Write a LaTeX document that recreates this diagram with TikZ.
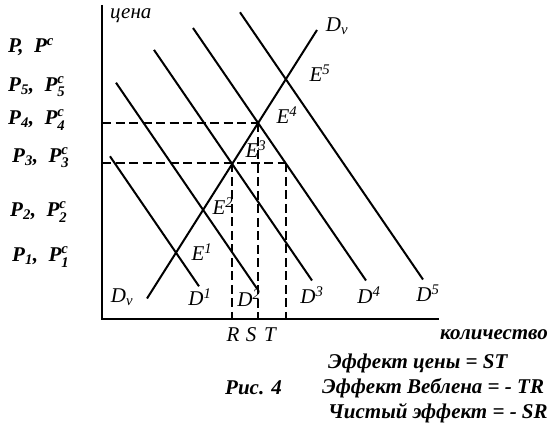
\documentclass[tikz,border=0pt]{standalone}
\usepackage{amsmath}
\usepackage{fontspec}
\setmainfont{Liberation Serif}
\newcommand{\plev}[1]{\textbf{\textit{P}}$_{\textbf{#1}}$,\enspace\textbf{\textit{P}}$^{\textbf{\textit{c}}}_{\textbf{#1}}$}
\newcommand{\eqp}[1]{\textit{E}$^{\text{#1}}$}
\newcommand{\dem}[1]{\textit{D}$^{\text{#1}}$}
\tikzset{
  demline/.style={line width=2pt},
  axisline/.style={line width=1.7pt},
  guide/.style={line width=1.8pt, dash pattern=on 9pt off 4.5pt},
  lbl/.style={font=\itshape\fontsize{21}{24}\selectfont, inner sep=0pt},
  plbl/.style={font=\bfseries\itshape\fontsize{21}{24}\selectfont, inner sep=0pt, anchor=west},
}
\begin{document}
\begin{tikzpicture}[x=1pt,y=-1pt]
\useasboundingbox (0,0) rectangle (559,427);
% axes
\coordinate (o) at (102,319);
\coordinate (ytop) at (102,5);
\coordinate (xend) at (439,319);
\draw[axisline] (ytop) -- (o) -- (xend);
% equilibrium points
\coordinate (e1) at (176,252.7);
\coordinate (e2) at (203.3,210.2);
\coordinate (e3) at (231.7,163.3);
\coordinate (e4) at (258.3,123.3);
\coordinate (e5) at (286,79.5);
\coordinate (t) at (285.7,163.3);
% Veblen line
\coordinate (dva) at (147,298.5);
\coordinate (dvb) at (317,30);
\draw[demline] (dva) -- (dvb);
% demand lines
\coordinate (d1a) at (110,156.3);
\coordinate (d1b) at (199,286.3);
\coordinate (d2a) at (116,82.7);
\coordinate (d2b) at (257,288.6);
\coordinate (d3a) at (154,49.9);
\coordinate (d3b) at (312,280.5);
\coordinate (d4a) at (193,28);
\coordinate (d4b) at (366,280.5);
\coordinate (d5a) at (240,12.3);
\coordinate (d5b) at (423,279.5);
\draw[demline] (d1a) -- (d1b);
\draw[demline] (d2a) -- (d2b);
\draw[demline] (d3a) -- (d3b);
\draw[demline] (d4a) -- (d4b);
\draw[demline] (d5a) -- (d5b);
% dashed guides
\coordinate (p4) at (102,123.3);
\coordinate (p3) at (102,163.3);
\coordinate (r) at (231.7,319);
\coordinate (s) at (258.3,319);
\coordinate (tq) at (285.7,319);
\draw[guide] (p4) -- (e4);
\draw[guide] (p3) -- (t);
\draw[guide] (e3) -- (r);
\draw[guide] (e4) -- (s);
\draw[guide] (t) -- (tq);
% point labels
\node[lbl] (le1) at (202,252) {\eqp{1}};
\node[lbl] (le2) at (223,206) {\eqp{2}};
\node[lbl] (le3) at (256,149) {\eqp{3}};
\node[lbl] (le4) at (287,115) {\eqp{4}};
\node[lbl] (le5) at (320,73) {\eqp{5}};
\node[lbl] (ldv1) at (122,297) {\textit{D}$_{\textit{v}}$};
\node[lbl] (ldv2) at (337,26) {\textit{D}$_{\textit{v}}$};
\node[lbl] (ld1) at (200,297) {\dem{1}};
\node[lbl] (ld2) at (249,298) {\dem{2}};
\node[lbl] (ld3) at (312,295) {\dem{3}};
\node[lbl] (ld4) at (369,295) {\dem{4}};
\node[lbl] (ld5) at (428,293) {\dem{5}};
\node[lbl] (lr) at (233,335) {\textit{R}};
\node[lbl] (ls) at (251,335) {\textit{S}};
\node[lbl] (lt) at (270,335) {\textit{T}};
% price levels
\node[plbl] (lp) at (8,47) {\textbf{\textit{P}},\enspace\textbf{\textit{P}}$^{\textbf{\textit{c}}}$};
\node[plbl] (lp5) at (8,87) {\plev{5}};
\node[plbl] (lp4) at (8,120) {\plev{4}};
\node[plbl] (lp3) at (12,158) {\plev{3}};
\node[plbl] (lp2) at (10,212) {\plev{2}};
\node[plbl] (lp1) at (12,257) {\plev{1}};
% axis names and caption
\node[lbl, anchor=west] (yname) at (110,16) {цена};
\node[plbl] (xname) at (440,335) {количество};
\node[plbl] (cap1) at (328,363) {Эффект цены = ST};
\node[plbl] (fig) at (225,388) {Рис. 4};
\node[plbl] (cap2) at (322,388) {Эффект Веблена = - TR};
\node[plbl] (cap3) at (328,413) {Чистый эффект = - SR};
\end{tikzpicture}
\end{document}
